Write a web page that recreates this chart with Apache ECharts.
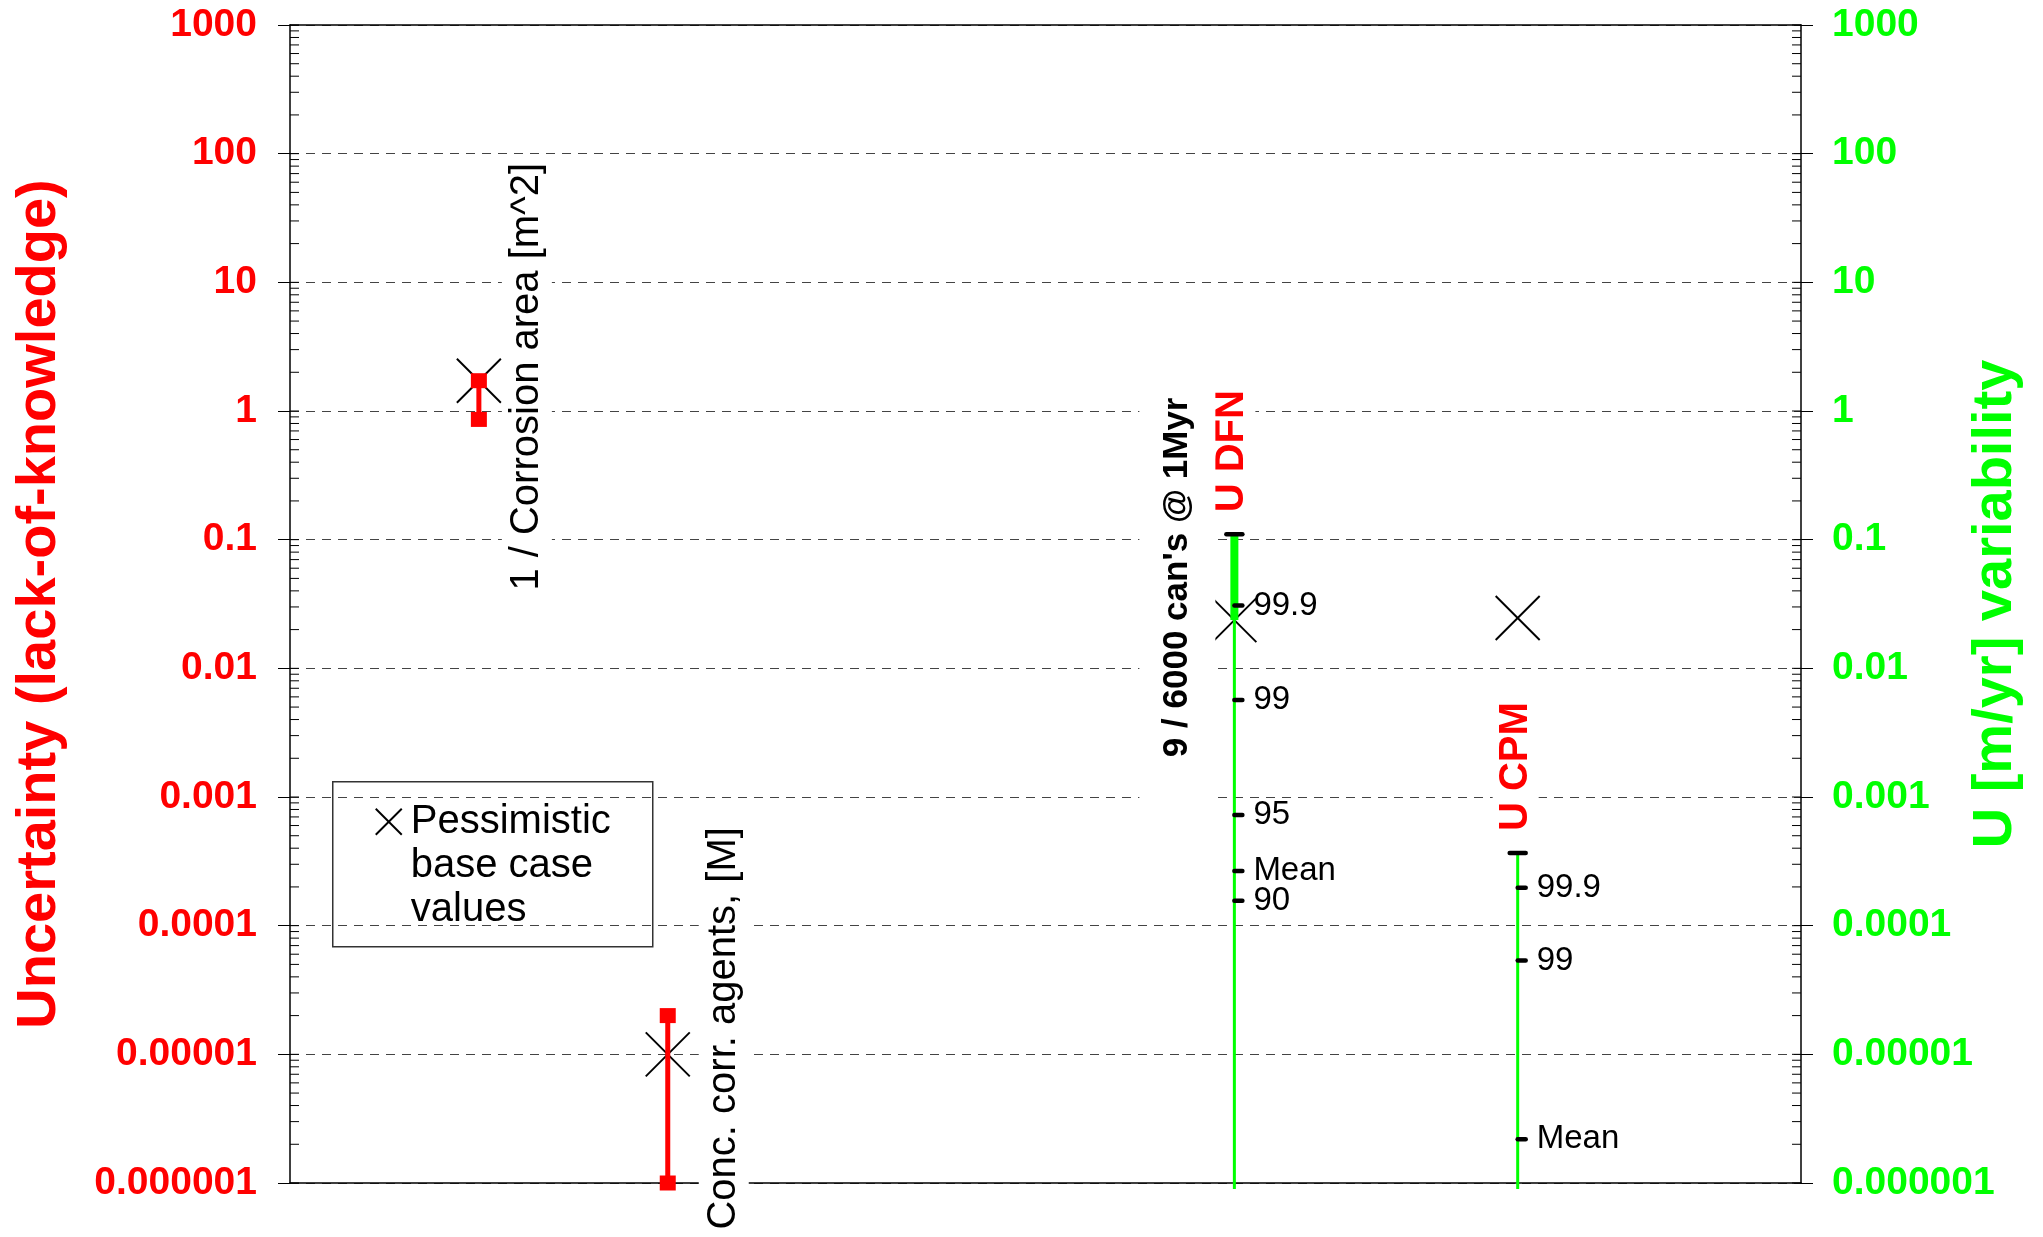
<!DOCTYPE html>
<html>
<head>
<meta charset="utf-8">
<script src="https://cdn.jsdelivr.net/npm/echarts@6/dist/echarts.min.js"></script>
<style>
  html, body { margin: 0; padding: 0; background: #fff; }
  #chart { width: 2043px; height: 1237px; }
</style>
</head>
<body>
<div id="chart"></div>
<script>
// Decade tick labels shared by both logarithmic axes (1e-6 ... 1e3)
const tickLabels = ['0.000001', '0.00001', '0.0001', '0.001', '0.01', '0.1', '1', '10', '100', '1000'];

// Lack-of-knowledge ranges of the input parameters
const paramNames = ['1 / Corrosion area [m^2]', 'Conc. corr. agents, [M]'];
const paramPos = [1, 2];
const paramLow = [0.86, 0.000001];
const paramHigh = [1.72, 0.00002];

// Pessimistic base case values
const basePos = [1, 2, 5, 6.5];
const baseValues = [1.72, 0.00001, 0.0237, 0.0246];

// Flow-rate (U) variability
const flowNames = ['U DFN', 'U CPM'];
const flowPos = [5, 6.5];
const flowTop = [0.11, 0.000367];
const flowBottom = [0.0000009, 0.0000009];
const flowHeavyLow = [0.0237, null];
const dfnPctLabels = ['99.9', '99', '95', 'Mean', '90'];
const dfnPctValues = [0.0308, 0.00568, 0.000724, 0.000266, 0.000156];
const cpmPctLabels = ['99.9', '99', 'Mean'];
const cpmPctValues = [0.000197, 0.0000535, 0.00000219];
const dfnNote = "9 / 6000 can's @ 1Myr";

const RED = '#ff0000';
const GREEN = '#00ff00';
const FONT = '"Liberation Sans", Arial, Helvetica, sans-serif';
const X_MIN = 0, X_MAX = 8;
const Y_MIN = 0.000001, Y_MAX = 1000;

const pctLabels = [dfnPctLabels, cpmPctLabels];
const pctValues = [dfnPctValues, cpmPctValues];

// positions of the log minor ticks (1..9 per decade)
const minorTickValues = [];
for (let e = -6; e <= 2; e++) {
  for (let k = 1; k <= 9; k++) minorTickValues.push(k * Math.pow(10, e));
}
minorTickValues.push(1000);

function fmtTick(v) {
  const i = Math.round(Math.log10(v)) + 6;
  return tickLabels[i] !== undefined ? tickLabels[i] : '';
}

function renderMinorTick(params, api) {
  const v = api.value(1);
  const l = api.coord([X_MIN, v]);
  const r = api.coord([X_MAX, v]);
  const st = { stroke: '#000', lineWidth: 1 };
  return {
    type: 'group', children: [
      { type: 'line', shape: { x1: l[0], y1: l[1], x2: l[0] + 9, y2: l[1] }, style: st },
      { type: 'line', shape: { x1: r[0], y1: r[1], x2: r[0] - 9, y2: r[1] }, style: st }
    ]
  };
}

function renderCross(params, api) {
  const p = api.coord([api.value(0), api.value(1)]);
  const h = 22;
  const st = { stroke: '#000', lineWidth: 2 };
  return {
    type: 'group', children: [
      { type: 'line', shape: { x1: p[0] - h, y1: p[1] - h, x2: p[0] + h, y2: p[1] + h }, style: st },
      { type: 'line', shape: { x1: p[0] - h, y1: p[1] + h, x2: p[0] + h, y2: p[1] - h }, style: st }
    ]
  };
}

function renderRange(params, api) {
  const x = api.value(0);
  const lo = api.coord([x, api.value(1)]);
  const hi = api.coord([x, api.value(2)]);
  return {
    type: 'group', children: [
      { type: 'line', shape: { x1: lo[0], y1: lo[1], x2: hi[0], y2: hi[1] }, style: { stroke: RED, lineWidth: 5 } },
      { type: 'rect', shape: { x: lo[0] - 8, y: lo[1] - 7.5, width: 16, height: 15 }, style: { fill: RED } },
      { type: 'rect', shape: { x: hi[0] - 8, y: hi[1] - 7.5, width: 16, height: 15 }, style: { fill: RED } }
    ]
  };
}

function renderFlow(params, api) {
  const i = params.dataIndex;
  const x = api.value(0);
  const top = api.coord([x, api.value(1)]);
  const bot = api.coord([x, api.value(2)]);
  const children = [
    { type: 'line', shape: { x1: bot[0], y1: bot[1], x2: top[0], y2: top[1] }, style: { stroke: GREEN, lineWidth: 3 } }
  ];
  if (flowHeavyLow[i] != null) {
    const b = api.coord([x, flowHeavyLow[i]]);
    children.push({ type: 'line', shape: { x1: b[0], y1: b[1], x2: top[0], y2: top[1] }, style: { stroke: GREEN, lineWidth: 8 } });
  }
  children.push({ type: 'line', shape: { x1: top[0] - 8, y1: top[1], x2: top[0] + 8, y2: top[1] }, style: { stroke: '#000', lineWidth: 4.5, lineCap: 'round' } });
  pctValues[i].forEach(function (v, k) {
    const p = api.coord([x, v]);
    children.push({ type: 'line', shape: { x1: p[0], y1: p[1], x2: p[0] + 8, y2: p[1] }, style: { stroke: '#000', lineWidth: 4.5, lineCap: 'round' } });
    children.push({
      type: 'text', x: p[0] + 19, y: p[1],
      style: { text: pctLabels[i][k], fill: '#000', font: '33px ' + FONT, align: 'left', verticalAlign: 'middle' }
    });
  });
  return { type: 'group', children: children };
}

// parameter captions, placed beside each parameter's base value
const paramLabelOffset = [[48, -4], [56, -26]];
function renderParamLabel(params, api) {
  const i = params.dataIndex;
  const p = api.coord([api.value(0), api.value(1)]);
  return {
    type: 'text', x: p[0] + paramLabelOffset[i][0], y: p[1] + paramLabelOffset[i][1], rotation: Math.PI / 2,
    style: {
      text: paramNames[i], fill: '#000', font: '40px ' + FONT, lineHeight: 40,
      align: 'center', verticalAlign: 'middle', backgroundColor: '#fff', padding: [5, 4, 5, 4]
    }
  };
}

// flow captions, placed above the top of each flow line
function renderFlowLabel(params, api) {
  const i = params.dataIndex;
  const p = api.coord([api.value(0), api.value(1)]);
  const children = [{
    type: 'text', x: p[0] - 2, y: p[1] - 19, rotation: Math.PI / 2,
    style: {
      text: flowNames[i], fill: RED, font: 'bold 40px ' + FONT, lineHeight: 40,
      align: 'left', verticalAlign: 'middle', backgroundColor: '#fff', padding: [3, 3, 3, 3]
    }
  }];
  if (i === 0) {
    children.push({
      type: 'text', x: p[0] - 57, y: p[1] + 64, rotation: Math.PI / 2,
      style: {
        text: dfnNote, fill: '#000', font: 'bold 35px ' + FONT, lineHeight: 40,
        align: 'center', verticalAlign: 'middle', backgroundColor: '#fff', padding: [6, 8, 30, 50]
      }
    });
  }
  return { type: 'group', children: children };
}

const chart = echarts.init(document.getElementById('chart'), null, { renderer: 'canvas' });

const yAxisCommon = {
  type: 'log', logBase: 10, min: Y_MIN, max: Y_MAX, splitNumber: 9,
  axisLine: { show: true, onZero: false, lineStyle: { color: '#000', width: 1.5 } },
  axisTick: { show: true, inside: false, length: 12, lineStyle: { color: '#000', width: 1 } },
  minorTick: { show: false },
  nameLocation: 'middle', nameRotate: 90, nameMoveOverlap: false
};

const option = {
  animation: false,
  backgroundColor: '#fff',
  grid: { left: 290, right: 242, top: 25, bottom: 54, containLabel: false, outerBoundsMode: 'none' },
  xAxis: [
    {
      type: 'value', min: X_MIN, max: X_MAX, position: 'bottom',
      axisLine: { show: true, onZero: false, lineStyle: { color: '#000', width: 1.5 } },
      axisTick: { show: false }, axisLabel: { show: false }, splitLine: { show: false }
    },
    {
      type: 'value', min: X_MIN, max: X_MAX, position: 'top',
      axisLine: { show: true, onZero: false, lineStyle: { color: '#000', width: 1.5 } },
      axisTick: { show: false }, axisLabel: { show: false }, splitLine: { show: false }
    }
  ],
  yAxis: [
    Object.assign({}, yAxisCommon, {
      position: 'left',
      name: 'Uncertainty (lack-of-knowledge)', nameGap: 222,
      nameTextStyle: { color: RED, fontSize: 56, fontWeight: 'bold', fontFamily: FONT },
      axisLabel: { margin: 33, color: RED, fontSize: 39, fontWeight: 'bold', fontFamily: FONT, formatter: fmtTick },
      splitLine: { show: true, lineStyle: { color: '#444', type: [9, 7], width: 1 } }
    }),
    Object.assign({}, yAxisCommon, {
      position: 'right',
      name: 'U [m/yr] variability', nameGap: 167,
      nameTextStyle: { color: GREEN, fontSize: 56, fontWeight: 'bold', fontFamily: FONT },
      axisLabel: { margin: 31, color: GREEN, fontSize: 39, fontWeight: 'bold', fontFamily: FONT, formatter: fmtTick },
      splitLine: { show: false }
    })
  ],
  series: [
    {
      type: 'custom', name: 'minor ticks', silent: true, z: 3, clip: false,
      renderItem: renderMinorTick,
      data: minorTickValues.map(function (v) { return [X_MIN, v]; })
    },
    {
      type: 'custom', name: 'Pessimistic base case values', z: 4, clip: false,
      renderItem: renderCross,
      data: basePos.map(function (x, i) { return [x, baseValues[i]]; })
    },
    {
      type: 'custom', name: 'Parameter ranges', z: 5, clip: false,
      renderItem: renderRange,
      data: paramPos.map(function (x, i) { return [x, paramLow[i], paramHigh[i]]; })
    },
    {
      type: 'custom', name: 'Flow variability', z: 5, clip: false,
      renderItem: renderFlow,
      data: flowPos.map(function (x, i) { return [x, flowTop[i], flowBottom[i]]; })
    },
    {
      type: 'custom', name: 'Parameter captions', z: 6, clip: false, silent: true,
      renderItem: renderParamLabel,
      data: paramPos.map(function (x, i) { return [x, baseValues[i]]; })
    },
    {
      type: 'custom', name: 'Flow captions', z: 6, clip: false, silent: true,
      renderItem: renderFlowLabel,
      data: flowPos.map(function (x, i) { return [x, flowTop[i]]; })
    }
  ],
  graphic: [{
    type: 'group', left: 332, top: 781, z: 100,
    children: [
      { type: 'rect', shape: { x: 0, y: 0, width: 320, height: 165 }, style: { fill: '#fff', stroke: '#333', lineWidth: 1.5 } },
      { type: 'line', shape: { x1: 43, y1: 27, x2: 69, y2: 53 }, style: { stroke: '#000', lineWidth: 2 } },
      { type: 'line', shape: { x1: 43, y1: 53, x2: 69, y2: 27 }, style: { stroke: '#000', lineWidth: 2 } },
      {
        type: 'text', x: 78, y: 18,
        style: { text: 'Pessimistic\nbase case\nvalues', fill: '#000', font: '40px ' + FONT, lineHeight: 44, align: 'left', verticalAlign: 'top' }
      }
    ]
  }]
};

chart.setOption(option);
</script>
</body>
</html>
